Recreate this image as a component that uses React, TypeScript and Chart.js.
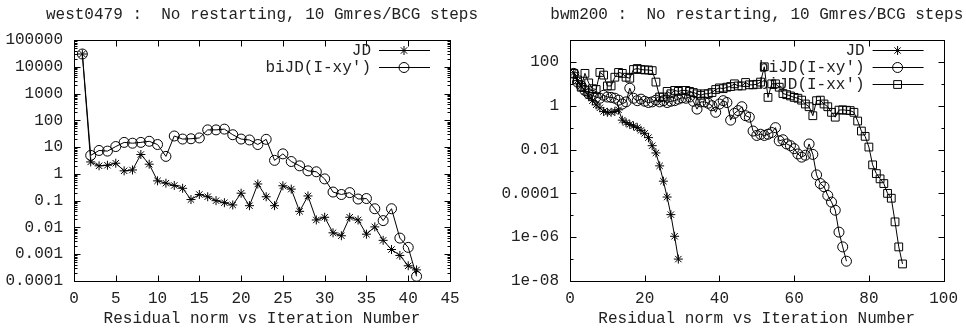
import React, { useEffect, useRef } from 'react';
import { Chart, registerables } from 'chart.js';

Chart.register(...registerables);

const FONT_FAMILY = "'Liberation Mono', 'Courier New', monospace";
const FONT_SIZE = 16;
const INK = '#222';

// ---------- Left panel: west0479 ----------
const westTitle = 'west0479 :  No restarting, 10 Gmres/BCG steps';
const westIter = [1, 2, 3, 4, 5, 6, 7, 8, 9, 10, 11, 12, 13, 14, 15, 16, 17, 18, 19, 20, 21, 22, 23, 24, 25, 26, 27, 28, 29, 30, 31, 32, 33, 34, 35, 36, 37, 38, 39, 40, 41];
const westJD = [30000, 2.8, 2.0, 2.1, 2.5, 1.3, 1.4, 5.3, 2.3, 0.55, 0.45, 0.37, 0.29, 0.11, 0.17, 0.14, 0.1, 0.084, 0.069, 0.19, 0.065, 0.42, 0.14, 0.065, 0.36, 0.27, 0.04, 0.15, 0.019, 0.024, 0.0063, 0.0049, 0.024, 0.019, 0.0056, 0.0105, 0.0033, 0.0015, 0.0009, 0.00037, 0.00026];
const westBiJDxy = [30000, 4.9, 7.5, 7.1, 10.5, 15, 14, 15, 16.5, 12.5, 4.5, 26, 20, 20.5, 22, 44, 44, 47, 29, 20, 18.5, 12.5, 19.5, 3.2, 5.6, 2.9, 2.0, 1.3, 1.2, 0.65, 0.21, 0.17, 0.2, 0.115, 0.12, 0.05, 0.018, 0.05, 0.004, 0.0018, 0.00015];
const westXTicks = [0, 5, 10, 15, 20, 25, 30, 35, 40, 45];
const westYTicks = [1e-4, 1e-3, 1e-2, 1e-1, 1, 10, 100, 1000, 10000, 100000];
const westYLabels = ['0.0001', '0.001', '0.01', '0.1', '1', '10', '100', '1000', '10000', '100000'];

// ---------- Right panel: bwm200 ----------
const bwmTitle = 'bwm200 :  No restarting, 10 Gmres/BCG steps';
const bwmJDIter = [1, 2, 3, 4, 5, 6, 7, 8, 9, 10, 11, 12, 13, 14, 15, 16, 17, 18, 19, 20, 21, 22, 23, 24, 25, 26, 27, 28, 29];
const bwmJD = [32, 14, 8, 4.5, 2.8, 1.7, 1.1, 0.8, 0.55, 0.5, 0.5, 0.55, 0.65, 0.22, 0.17, 0.14, 0.12, 0.1, 0.075, 0.055, 0.035, 0.015, 0.007, 0.0018, 3.6e-4, 6.8e-5, 1.07e-5, 1.1e-6, 1e-7];
const bwmXyIter = [1, 2, 3, 4, 5, 6, 7, 8, 9, 10, 11, 12, 13, 14, 15, 16, 17, 18, 19, 20, 21, 22, 23, 24, 25, 26, 27, 28, 29, 30, 31, 32, 33, 34, 35, 36, 37, 38, 39, 40, 41, 42, 43, 44, 45, 46, 47, 48, 49, 50, 51, 52, 53, 54, 55, 56, 57, 58, 59, 60, 61, 62, 63, 64, 65, 66, 67, 68, 69, 70, 71, 72, 73, 74];
const bwmBiJDxy = [30, 12, 8, 5, 3.5, 3, 2.5, 2.2, 3, 2.5, 2.4, 2.2, 1.8, 1.2, 1.5, 6.3, 2.2, 1.7, 2, 1.6, 1.4, 1.5, 1.8, 1.5, 1.7, 1.4, 1.6, 1.7, 2, 2.3, 2.2, 2.5, 1.6, 0.7, 1.5, 1.5, 1.3, 1, 0.5, 1.2, 1.7, 1.4, 0.22, 0.45, 0.6, 0.9, 0.35, 0.3, 0.07, 0.044, 0.05, 0.044, 0.05, 0.06, 0.1, 0.025, 0.028, 0.018, 0.015, 0.011, 0.0063, 0.0045, 0.0055, 0.018, 0.006, 7e-4, 2.8e-4, 2e-4, 8e-5, 4e-5, 1.7e-5, 1.7e-6, 3.6e-7, 8e-8];
const bwmXxIter = [1, 2, 3, 4, 5, 6, 7, 8, 9, 10, 11, 12, 13, 14, 15, 16, 17, 18, 19, 20, 21, 22, 23, 24, 25, 26, 27, 28, 29, 30, 31, 32, 33, 34, 35, 36, 37, 38, 39, 40, 41, 42, 43, 44, 45, 46, 47, 48, 49, 50, 51, 52, 53, 54, 55, 56, 57, 58, 59, 60, 61, 62, 63, 64, 65, 66, 67, 68, 69, 70, 71, 72, 73, 74, 75, 76, 77, 78, 79, 80, 81, 82, 83, 84, 85, 86, 87, 88, 89];
const bwmBiJDxx = [30, 15, 7, 30, 11, 6, 5.5, 33, 25, 8, 8, 20, 33, 30, 20, 18, 45, 50, 45, 43, 43, 40, 12, 2.5, 2.5, 4.5, 3.5, 5, 4.5, 5, 5, 4.5, 4, 3.5, 3, 3.5, 3.5, 4, 5.5, 6.5, 6, 7, 7.5, 10, 8, 8, 11.5, 9, 9, 9.5, 12, 60, 2.4, 10, 10, 7, 3.6, 3.2, 2.8, 2.4, 2.2, 1.8, 1.2, 0.9, 0.35, 1.7, 1.8, 1.2, 0.9, 0.5, 0.3, 0.63, 0.65, 0.62, 0.6, 0.5, 0.2, 0.07, 0.04, 0.013, 0.002, 8e-4, 4.6e-4, 2.8e-4, 1e-4, 6e-5, 5e-6, 3.6e-7, 6e-8];
const bwmXTicks = [0, 20, 40, 60, 80, 100];
const bwmYTicks = [1e-8, 1e-6, 1e-4, 1e-2, 1, 100];
const bwmYLabels = ['1e-08', '1e-06', '0.0001', '0.01', '1', '100'];
const bwmYMinor = [1e-7, 1e-5, 1e-3, 1e-1, 10, 1000];

const xAxisTitle = 'Residual norm vs Iteration Number';

function pts(xs: number[], ys: number[]) {
  return xs.map((x, i) => ({ x, y: ys[i] }));
}

function drawMarker(ctx: CanvasRenderingContext2D, style: string, x: number, y: number, r: number) {
  ctx.beginPath();
  if (style === 'star') {
    const d = r * Math.SQRT1_2;
    ctx.moveTo(x - r, y); ctx.lineTo(x + r, y);
    ctx.moveTo(x, y - r); ctx.lineTo(x, y + r);
    ctx.moveTo(x - d, y - d); ctx.lineTo(x + d, y + d);
    ctx.moveTo(x - d, y + d); ctx.lineTo(x + d, y - d);
  } else if (style === 'circle') {
    ctx.arc(x, y, r, 0, Math.PI * 2);
  } else {
    const s = r * Math.SQRT1_2;
    ctx.rect(x - s, y - s, 2 * s, 2 * s);
  }
  ctx.stroke();
}

const gnuplotDecor = {
  id: 'gnuplotDecor',
  beforeDatasetsDraw(chart: any, _args: any, opts: any) {
    const { ctx, chartArea: a, scales } = chart;
    const L = Math.round(a.left) + 0.5;
    const R = Math.round(a.right) + 0.5;
    const T = Math.round(a.top) + 0.5;
    const B = Math.round(a.bottom) + 0.5;
    ctx.save();
    ctx.strokeStyle = '#000';
    ctx.lineWidth = 1;
    ctx.strokeRect(L, T, R - L, B - T);

    const major = 6;
    const minor = 3;
    ctx.beginPath();
    for (const v of opts.xTicks) {
      const px = Math.round(scales.x.getPixelForValue(v)) + 0.5;
      ctx.moveTo(px, B); ctx.lineTo(px, B - major);
      ctx.moveTo(px, T); ctx.lineTo(px, T + major);
    }
    for (const v of opts.yMajor) {
      const py = Math.round(scales.y.getPixelForValue(v)) + 0.5;
      ctx.moveTo(L, py); ctx.lineTo(L + major, py);
      ctx.moveTo(R, py); ctx.lineTo(R - major, py);
    }
    for (const v of opts.yMinor) {
      const py = Math.round(scales.y.getPixelForValue(v)) + 0.5;
      if (py < T || py > B) continue;
      ctx.moveTo(L, py); ctx.lineTo(L + minor, py);
      ctx.moveTo(R, py); ctx.lineTo(R - minor, py);
    }
    ctx.stroke();

    ctx.fillStyle = INK;
    ctx.font = `${FONT_SIZE}px ${FONT_FAMILY}`;
    ctx.textAlign = 'center';
    ctx.textBaseline = 'middle';
    const cx = (a.left + a.right) / 2;
    ctx.fillText(opts.title, cx, 15);
    ctx.fillText(opts.xTitle, cx, 319);

    // gnuplot-style key
    ctx.textAlign = 'right';
    chart.data.datasets.forEach((ds: any, i: number) => {
      const y = Math.round(a.top + 10 + 17 * i) + 0.5;
      ctx.fillStyle = INK;
      ctx.fillText(ds.label, a.right - 79, y);
      ctx.beginPath();
      ctx.moveTo(a.right - 71, y);
      ctx.lineTo(a.right - 20, y);
      ctx.stroke();
      drawMarker(ctx, ds.pointStyle, a.right - 46, y, ds.pointRadius);
    });
    ctx.restore();
  },
};

function makeDataset(label: string, data: { x: number; y: number }[], style: string, radius: number) {
  return {
    label,
    data,
    borderColor: '#000',
    borderWidth: 1,
    pointStyle: style,
    pointRadius: radius,
    pointBorderColor: '#000',
    pointBorderWidth: 1,
    pointBackgroundColor: 'rgba(0,0,0,0)',
    backgroundColor: 'rgba(0,0,0,0)',
    fill: false,
    tension: 0,
  };
}

type PanelProps = {
  title: string;
  datasets: any[];
  xMax: number;
  xTicks: number[];
  yMin: number;
  yMax: number;
  yTicks: number[];
  yLabels: string[];
  yMinor: number[];
  yAxisWidth: number;
  rightPad: number;
};

function Panel(p: PanelProps) {
  const ref = useRef<HTMLCanvasElement | null>(null);
  useEffect(() => {
    if (!ref.current) return;
    const font = { family: FONT_FAMILY, size: FONT_SIZE };
    const chart = new Chart(ref.current, {
      type: 'line',
      data: { datasets: p.datasets },
      options: {
        responsive: false,
        animation: false,
        devicePixelRatio: 1,
        layout: { padding: { left: 0, right: p.rightPad, top: 40, bottom: 0 } },
        plugins: {
          legend: { display: false },
          tooltip: { enabled: false },
          title: { display: false },
          gnuplotDecor: { title: p.title, xTitle: xAxisTitle, xTicks: p.xTicks, yMajor: p.yTicks, yMinor: p.yMinor },
        } as any,
        scales: {
          x: {
            type: 'linear',
            min: 0,
            max: p.xMax,
            afterBuildTicks: (s: any) => { s.ticks = p.xTicks.map((v) => ({ value: v })); },
            afterFit: (s: any) => { s.height = 49; },
            grid: { display: false, drawTicks: false },
            border: { display: false },
            ticks: { font, color: INK, padding: 8, autoSkip: false, maxRotation: 0, callback: (v: any) => String(v) },
          },
          y: {
            type: 'logarithmic',
            min: p.yMin,
            max: p.yMax,
            afterBuildTicks: (s: any) => { s.ticks = p.yTicks.map((v) => ({ value: v })); },
            afterFit: (s: any) => { s.width = p.yAxisWidth; },
            grid: { display: false, drawTicks: false },
            border: { display: false },
            ticks: {
              font,
              color: INK,
              padding: 11,
              autoSkip: false,
              callback: (v: any) => {
                const i = p.yTicks.findIndex((t) => Math.abs(Math.log10(t) - Math.log10(Number(v))) < 1e-6);
                return i >= 0 ? p.yLabels[i] : '';
              },
            },
          },
        },
      } as any,
      plugins: [gnuplotDecor as any],
    });
    return () => chart.destroy();
  }, []);
  return (
    <div style={{ width: 483, height: 330, position: 'relative' }}>
      <canvas ref={ref} width={483} height={330} style={{ display: 'block' }} />
    </div>
  );
}

const westMinor: number[] = [];
for (let e = -4; e < 5; e++) for (let m = 2; m <= 9; m++) westMinor.push(m * Math.pow(10, e));

export default function App() {
  const westSets = [
    makeDataset('JD', pts(westIter, westJD), 'star', 4.5),
    makeDataset("biJD(I-xy')", pts(westIter, westBiJDxy), 'circle', 5),
  ];
  const bwmSets = [
    makeDataset('JD', pts(bwmJDIter, bwmJD), 'star', 4.5),
    makeDataset("biJD(I-xy')", pts(bwmXyIter, bwmBiJDxy), 'circle', 5),
    makeDataset("biJD(I-xx')", pts(bwmXxIter, bwmBiJDxx), 'rect', 5.5),
  ];
  return (
    <div style={{ position: 'absolute', left: 0, top: 0, width: 966, height: 330, display: 'flex', background: '#fff' }}>
      <Panel title={westTitle} datasets={westSets} xMax={45} xTicks={westXTicks} yMin={1e-4} yMax={1e5}
        yTicks={westYTicks} yLabels={westYLabels} yMinor={westMinor} yAxisWidth={74} rightPad={33} />
      <Panel title={bwmTitle} datasets={bwmSets} xMax={100} xTicks={bwmXTicks} yMin={1e-8} yMax={1e3}
        yTicks={bwmYTicks} yLabels={bwmYLabels} yMinor={bwmYMinor} yAxisWidth={87} rightPad={21} />
    </div>
  );
}
